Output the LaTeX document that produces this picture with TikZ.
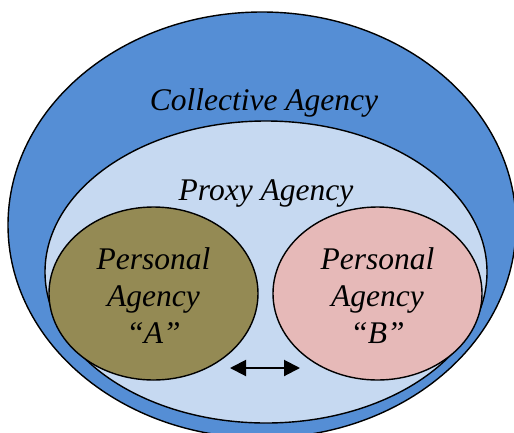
\documentclass[tikz,border=0pt]{standalone}
\usepackage{fontspec}
\setmainfont{Liberation Serif}[ItalicFont={Liberation Serif Italic}]
\usetikzlibrary{shapes.geometric,arrows.meta}
\definecolor{outerblue}{HTML}{558ED5}
\definecolor{proxyblue}{HTML}{C6D9F1}
\definecolor{olive}{HTML}{948A54}
\definecolor{pinkish}{HTML}{E6B9B8}
\tikzset{
  agency/.style={ellipse, draw=black, line width=1.4pt, inner sep=0pt},
  lbl/.style={font=\itshape\fontsize{31.5}{37}\selectfont, anchor=base, inner sep=0pt},
}
\begin{document}
\begin{tikzpicture}[x=1pt,y=-1pt]
\useasboundingbox (0,0) rectangle (514,432);
\clip (0,0) rectangle (514,432);
\node[agency, fill=outerblue, minimum width=508pt, minimum height=426pt] (coll) at (262,225) {};
\node[agency, fill=proxyblue, minimum width=442pt, minimum height=302pt] (proxy) at (266,272) {};
\node[agency, fill=olive, minimum width=209pt, minimum height=173pt] (pa) at (153.5,293.5) {};
\node[agency, fill=pinkish, minimum width=209pt, minimum height=173pt] (pb) at (377.5,293.5) {};
\node[lbl] (tcoll) at (264,110) {Collective Agency};
\node[lbl] (tproxy) at (266,200) {Proxy Agency};
\node[lbl] (ta1) at (153.5,269) {Personal};
\node[lbl] (ta2) at (153.5,306) {Agency};
\node[lbl] (ta3) at (153.5,343) {“A”};
\node[lbl] (tb1) at (377.5,269) {Personal};
\node[lbl] (tb2) at (377.5,306) {Agency};
\node[lbl] (tb3) at (377.5,343) {“B”};
\coordinate (arL) at (230,368);
\coordinate (arR) at (300,368);
\draw[line width=2pt, {Triangle[length=16pt,width=16pt]}-{Triangle[length=16pt,width=16pt]}] (arL) -- (arR);
\end{tikzpicture}
\end{document}
